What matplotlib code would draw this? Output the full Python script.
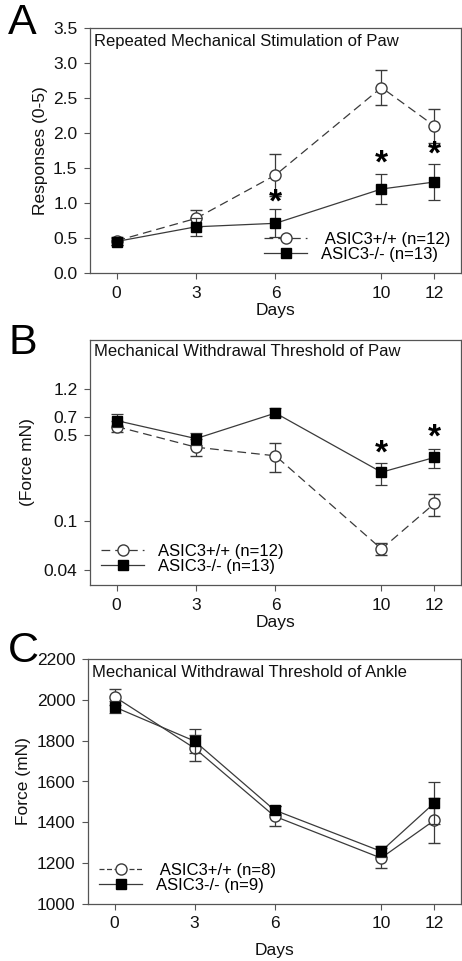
import numpy as np
import matplotlib
matplotlib.use("Agg")
import matplotlib.pyplot as plt
from matplotlib.lines import Line2D
from matplotlib.ticker import FixedLocator, NullLocator

plt.rcParams['font.family'] = ['Liberation Sans', 'DejaVu Sans']

days = [0, 3, 6, 10, 12]

# panel A - responses (0-5)
a_wt = [0.46, 0.78, 1.40, 2.65, 2.10]
a_wt_err = [0.06, 0.12, 0.30, 0.25, 0.24]
a_ko = [0.45, 0.66, 0.71, 1.20, 1.30]
a_ko_err = [0.05, 0.13, 0.20, 0.21, 0.26]
a_star_days = [6, 10, 12]
a_star_y = [1.0, 1.56, 1.68]

# panel B - withdrawal threshold of paw (log scale)
b_wt = [0.59, 0.40, 0.34, 0.059, 0.139]
b_wt_lo = [0.53, 0.34, 0.25, 0.053, 0.110]
b_wt_hi = [0.66, 0.47, 0.43, 0.066, 0.167]
b_ko = [0.66, 0.47, 0.76, 0.25, 0.33]
b_ko_lo = [0.59, 0.42, 0.70, 0.195, 0.27]
b_ko_hi = [0.74, 0.52, 0.84, 0.30, 0.39]
b_star_days = [10, 12]
b_star_y = [0.35, 0.475]
b_ticks = [0.04, 0.1, 0.5, 0.7, 1.2]
b_ticklabels = ["0.04", "0.1", "0.5", "0.7", "1.2"]

# panel C - withdrawal threshold of ankle
c_wt = [2015, 1763, 1430, 1225, 1410]
c_wt_err = [38, 65, 50, 47, 110]
c_ko = [1965, 1798, 1460, 1258, 1495]
c_ko_err = [28, 60, 18, 28, 102]

W, H = 462, 961
fig = plt.figure(figsize=(W / 100, H / 100), dpi=100)

def rect(l, r, t, b):
    return [l / W, 1 - b / H, (r - l) / W, (b - t) / H]

lc = '#3a3a3a'
fs = 12.5
DASH = (0, (7, 4))

def style_axes(ax):
    for s in ax.spines.values():
        s.set_color('#555555')
        s.set_linewidth(0.9)
    ax.tick_params(direction='out', length=4, width=0.8, colors='#555555',
                   labelcolor='#111111', labelsize=fs, pad=5)
    ax.set_xlim(-1.0, 13.0)
    ax.set_xticks(days)
    ax.set_xlabel("Days", fontsize=fs, color='#111111', labelpad=2)

def draw(ax, y_wt, e_wt, y_ko, e_ko, wt_dash=True):
    ls_wt = DASH if wt_dash else '-'
    ax.errorbar(days, y_wt, yerr=e_wt, color=lc, lw=0.9, ls=ls_wt,
                marker='o', ms=8, mfc='white', mec=lc, mew=1.0,
                ecolor=lc, elinewidth=0.9, capsize=4, capthick=0.9, zorder=3)
    ax.errorbar(days, y_ko, yerr=e_ko, color=lc, lw=0.9, ls='-',
                marker='s', ms=7, mfc='black', mec='black',
                ecolor=lc, elinewidth=0.9, capsize=4, capthick=0.9, zorder=4)

def add_legend(ax, labels, loc, wt_dash=True):
    h_wt = Line2D([], [], color=lc, lw=0.9, ls=DASH if wt_dash else (0, (4, 2)),
                  marker='o', ms=8, mfc='white', mec=lc)
    h_ko = Line2D([], [], color=lc, lw=0.9, ls='-', marker='s', ms=7,
                  mfc='black', mec='black')
    ax.legend([h_wt, h_ko], labels, loc=loc, frameon=False,
              fontsize=fs - 0.5, handlelength=2.6, handletextpad=0.8,
              labelspacing=0.02, borderaxespad=0.25)

# ---- A
axA = fig.add_axes(rect(90, 461, 28, 273))
draw(axA, a_wt, a_wt_err, a_ko, a_ko_err)
style_axes(axA)
axA.set_ylim(0, 3.5)
axA.set_yticks(np.arange(0, 3.51, 0.5))
axA.set_yticklabels(["%.1f" % v for v in np.arange(0, 3.51, 0.5)])
axA.set_ylabel("Responses (0-5)", fontsize=fs, color='#111111', labelpad=4)
axA.text(0.01, 0.975, "Repeated Mechanical Stimulation of Paw", transform=axA.transAxes,
         fontsize=fs - 0.5, va='top', ha='left', color='#111111')
for d, y in zip(a_star_days, a_star_y):
    axA.text(d, y, "*", fontsize=24, fontweight='bold', ha='center', va='center')
add_legend(axA, [" ASIC3+/+ (n=12)", "ASIC3-/- (n=13)"], 'lower right')

# ---- B
axB = fig.add_axes(rect(90, 461, 340, 585))
axB.set_yscale('log')
draw(axB, b_wt, [np.subtract(b_wt, b_wt_lo), np.subtract(b_wt_hi, b_wt)],
     b_ko, [np.subtract(b_ko, b_ko_lo), np.subtract(b_ko_hi, b_ko)])
style_axes(axB)
axB.set_ylim(0.03, 3.0)
axB.yaxis.set_major_locator(FixedLocator(b_ticks))
axB.yaxis.set_minor_locator(NullLocator())
axB.set_yticklabels(b_ticklabels)
axB.set_ylabel("(Force mN)", fontsize=fs, color='#111111', labelpad=6)
axB.text(0.01, 0.985, "Mechanical Withdrawal Threshold of Paw", transform=axB.transAxes,
         fontsize=fs - 0.5, va='top', ha='left', color='#111111')
for d, y in zip(b_star_days, b_star_y):
    axB.text(d, y, "*", fontsize=24, fontweight='bold', ha='center', va='center')
add_legend(axB, ["ASIC3+/+ (n=12)", "ASIC3-/- (n=13)"], 'lower left')

# ---- C
axC = fig.add_axes(rect(88, 461, 659, 904))
draw(axC, c_wt, c_wt_err, c_ko, c_ko_err, wt_dash=False)
style_axes(axC)
axC.xaxis.labelpad = 8
axC.set_ylim(1000, 2200)
axC.set_yticks(np.arange(1000, 2201, 200))
axC.set_ylabel("Force (mN)", fontsize=fs, color='#111111', labelpad=4)
axC.text(0.01, 0.975, "Mechanical Withdrawal Threshold of Ankle", transform=axC.transAxes,
         fontsize=fs - 0.5, va='top', ha='left', color='#111111')
add_legend(axC, [" ASIC3+/+ (n=8)", "ASIC3-/- (n=9)"], 'lower left', wt_dash=False)

# panel letters
for lab, y in [("A", 3), ("B", 323), ("C", 631)]:
    fig.text(8 / W, 1 - y / H, lab, fontsize=31, va='top', ha='left')

fig.savefig("out.png", dpi=100)
